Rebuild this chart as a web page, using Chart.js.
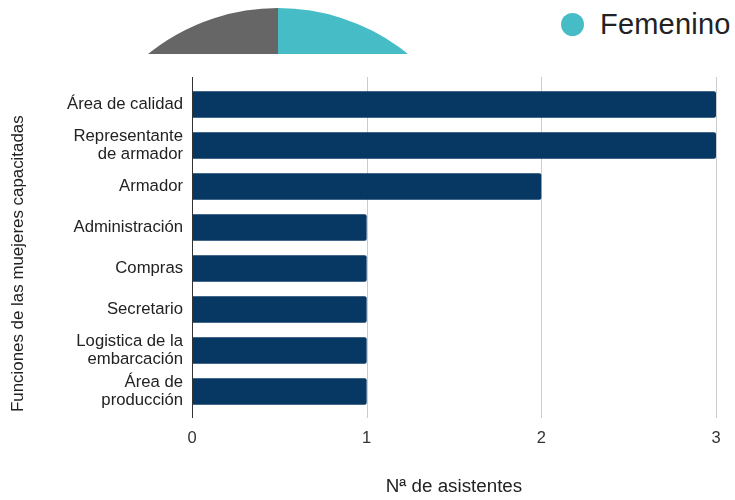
<!DOCTYPE html>
<html>
<head>
<meta charset="utf-8">
<script src="https://cdn.jsdelivr.net/npm/chart.js@4.4.1/dist/chart.umd.min.js"></script>
<style>
  html, body { margin: 0; padding: 0; background: #fff; }
  body { width: 735px; height: 500px; position: relative; overflow: hidden; font-family: "Liberation Sans", Arial, sans-serif; }
  #pieClip { position: absolute; left: 0; top: 0; width: 735px; height: 54px; overflow: hidden; }
  #pieBox { position: absolute; left: 71px; top: 8px; width: 414px; height: 414px; }
  #legend { position: absolute; left: 561px; top: 7px; height: 34px; display: flex; align-items: center; }
  #legend .dot { width: 23px; height: 23px; border-radius: 50%; margin-right: 16px; }
  #legend .txt { font-size: 29px; color: #222; letter-spacing: 0.2px; }
  #barBox { position: absolute; left: 0; top: 0; width: 735px; height: 500px; }
</style>
</head>
<body>
<div id="pieClip"><div id="pieBox"><canvas id="pie"></canvas></div></div>
<div id="legend"><span class="dot" id="legDot"></span><span class="txt" id="legTxt"></span></div>
<div id="barBox"><canvas id="bar"></canvas></div>
<script>
// ---- data ----
const pieLabels = ["Femenino", "Masculino"];
const pieValues = [40, 60];
const pieColors = ["#46bdc6", "#666666"];

const categories = [
  "Área de calidad",
  ["Representante", "de armador"],
  "Armador",
  "Administración",
  "Compras",
  "Secretario",
  ["Logistica de la", "embarcación"],
  ["Área de", "producción"]
];
const asistentes = [3, 3, 2, 1, 1, 1, 1, 1];
const xTicks = [0, 1, 2, 3];
const xTitle = "Nª de asistentes";
const yTitle = "Funciones de las muejeres capacitadas";
const barColor = "#073763";

const FONT = "'Liberation Sans', Arial, sans-serif";

// legend (only first entry visible in the reference)
document.getElementById('legDot').style.background = pieColors[0];
document.getElementById('legTxt').textContent = pieLabels[0];

// ---- pie (cropped at top) ----
new Chart(document.getElementById('pie'), {
  type: 'pie',
  data: { labels: pieLabels, datasets: [{ data: pieValues, backgroundColor: pieColors, borderWidth: 0 }] },
  options: {
    responsive: true, maintainAspectRatio: false, animation: false,
    layout: { padding: 0 },
    plugins: { legend: { display: false }, tooltip: { enabled: false } }
  }
});

// ---- grid plugin: vertical lines extended beyond plot area ----
const gridPlugin = {
  id: 'extGrid',
  beforeDatasetsDraw(chart) {
    const { ctx, chartArea, scales } = chart;
    ctx.save();
    xTicks.forEach(v => {
      if (v === 0) return;
      const x = Math.round(scales.x.getPixelForValue(v)) + 0.5;
      ctx.strokeStyle = '#cccccc'; ctx.lineWidth = 1;
      ctx.beginPath(); ctx.moveTo(x, chartArea.top - 7); ctx.lineTo(x, chartArea.bottom + 6); ctx.stroke();
    });
    ctx.restore();
  },
  afterDatasetsDraw(chart) {
    const { ctx, chartArea, scales } = chart;
    const x = Math.round(scales.x.getPixelForValue(0)) + 0.5;
    ctx.save();
    ctx.strokeStyle = '#333333'; ctx.lineWidth = 1;
    ctx.beginPath(); ctx.moveTo(x, chartArea.top - 7); ctx.lineTo(x, chartArea.bottom + 6); ctx.stroke();
    ctx.restore();
  }
};

new Chart(document.getElementById('bar'), {
  type: 'bar',
  data: { labels: categories, datasets: [{ data: asistentes, backgroundColor: barColor, borderRadius: 2, categoryPercentage: 1, barPercentage: 0.65 }] },
  options: {
    indexAxis: 'y',
    responsive: true, maintainAspectRatio: false, animation: false,
    layout: { padding: { top: 84, right: 19, left: 0, bottom: 0 } },
    plugins: { legend: { display: false }, tooltip: { enabled: false } },
    scales: {
      x: {
        min: 0, max: 3,
        afterFit(s) { s.height = 88; },
        afterBuildTicks(s) { s.ticks = xTicks.map(v => ({ value: v })); },
        grid: { display: false, drawTicks: true, tickLength: 14 },
        border: { display: false },
        ticks: { color: '#333', font: { family: FONT, size: 16.5 }, padding: 3 },
        title: { display: true, text: xTitle, color: '#222', font: { family: FONT, size: 18.8 }, padding: { top: 0, bottom: 2 } }
      },
      y: {
        afterFit(s) { s.width = 192; },
        grid: { display: false, drawTicks: false },
        border: { display: false },
        ticks: { color: '#222', font: { family: FONT, size: 16.7, lineHeight: 1.1 }, padding: 9, autoSkip: false },
        title: { display: true, text: yTitle, align: 'start', color: '#222', font: { family: FONT, size: 16.9 }, padding: { top: 8, bottom: 0 } }
      }
    }
  },
  plugins: [gridPlugin]
});
</script>
</body>
</html>
